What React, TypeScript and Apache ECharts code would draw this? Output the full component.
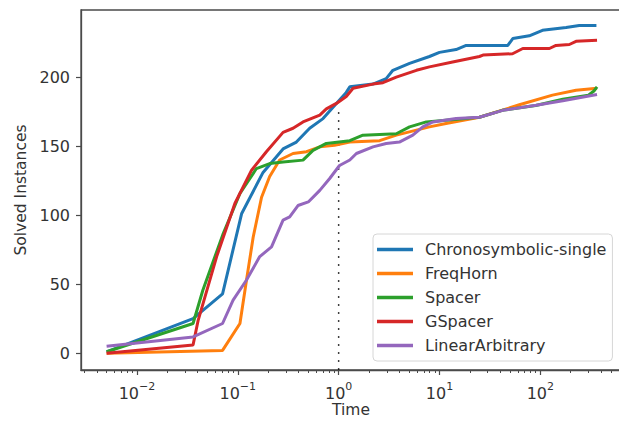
import React, { useEffect, useRef } from 'react';
import * as echarts from 'echarts';

const SERIES_NAMES = ['Chronosymbolic-single', 'FreqHorn', 'Spacer', 'GSpacer', 'LinearArbitrary'];
const COLORS = ['#1f77b4', '#ff7f0e', '#2ca02c', '#d62728', '#9467bd'];

// time (s) / solved instances
const chronoTime = [0.005, 0.036, 0.0706, 0.109, 0.178, 0.281, 0.381, 0.516, 0.7, 0.95, 1.19, 1.29, 2.19, 2.96, 3.45, 5.05, 7.95, 10, 14.6, 18.4, 24.9, 47.6, 53.3, 77.7, 105, 180, 243, 360];
const chronoSolved = [1, 25, 43, 101, 131, 148, 153, 163, 170, 181, 189, 193, 195, 199, 205, 210, 215, 218, 220, 223, 223, 223, 228, 230, 234, 236, 237.5, 237.5];

const freqTime = [0.005, 0.0706, 0.105, 0.122, 0.142, 0.172, 0.207, 0.26, 0.353, 0.48, 0.65, 0.91, 1.29, 2.55, 3.73, 7.95, 11.6, 24.9, 62, 132, 226, 365];
const freqSolved = [0, 2, 21.5, 53, 84, 113, 128, 140, 144.7, 146, 149.5, 150.7, 153, 154, 158, 164, 166.5, 171, 180, 187, 190.6, 192];

const spacerTime = [0.005, 0.036, 0.045, 0.0717, 0.105, 0.153, 0.207, 0.281, 0.443, 0.557, 0.755, 1.29, 1.74, 3.73, 5.05, 7.4, 24.9, 42, 90, 167, 300, 340, 365];
const spacerSolved = [1, 21.5, 45.6, 86.7, 115.7, 133.8, 137.4, 138.6, 139.9, 147, 152, 154, 158, 159, 164, 167.6, 171, 176, 179.5, 184, 187, 190, 193];

const gspacerTime = [0.005, 0.036, 0.0405, 0.0617, 0.0935, 0.137, 0.192, 0.281, 0.353, 0.443, 0.65, 0.755, 0.95, 1.19, 1.39, 2.19, 2.75, 3.73, 5.9, 7.95, 13.5, 24.9, 27, 53, 67, 123, 143, 194, 226, 365];
const gspacerSolved = [0, 6, 24, 70, 108.5, 132.6, 146, 160, 163, 167.6, 172.5, 177, 181, 186, 192, 195, 196, 200, 205, 207.5, 211, 215, 216, 217, 220.8, 220.8, 223, 223.7, 226, 226.8];

const linearTime = [0.005, 0.036, 0.0706, 0.0898, 0.122, 0.165, 0.216, 0.281, 0.327, 0.395, 0.5, 0.65, 0.815, 1.02, 1.29, 1.5, 2.19, 2.96, 4.0, 5.44, 6.83, 8.6, 14.6, 24.9, 42.4, 90.8, 167, 365];
const linearSolved = [5, 11.8, 21.5, 38.4, 53, 70, 77, 96.4, 98.8, 107, 109.6, 118, 126.6, 136, 140, 144.7, 149.5, 152, 153, 158, 164, 167.6, 170, 171, 176, 179.7, 183, 187.5];

const X_DECADES = [-2, -1, 0, 1, 2];
const Y_TICKS = [0, 50, 100, 150, 200];
const CUTOFF_TIME = 1;
const CUTOFF_RANGE = [-12, 177];

const TIMES = [chronoTime, freqTime, spacerTime, gspacerTime, linearTime];
const SOLVED = [chronoSolved, freqSolved, spacerSolved, gspacerSolved, linearSolved];

const FONT = "'DejaVu Sans', sans-serif";
const TEXT = '#333333';
const AXIS = '#4a4a4a';

const X_MIN = -2.555;
const X_MAX = 2.8;
const Y_MIN = -12.2;
const Y_MAX = 248.7;

function minorTicks(): number[] {
  const out: number[] = [];
  for (let n = -3; n <= 2; n++) {
    for (let k = 2; k <= 9; k++) {
      const v = Math.log10(k * Math.pow(10, n));
      if (v > X_MIN && v < X_MAX) out.push(v);
    }
  }
  return out;
}

export default function App() {
  const ref = useRef<HTMLDivElement>(null);
  useEffect(() => {
    if (!ref.current) return;
    const chart = echarts.init(ref.current, undefined, { renderer: 'svg' });
    const series: any[] = SERIES_NAMES.map((name, i) => ({
      name,
      type: 'line',
      xAxisIndex: 0,
      data: TIMES[i].map((t, j) => [Math.log10(t), SOLVED[i][j]]),
      showSymbol: false,
      symbol: 'none',
      lineStyle: { color: COLORS[i], width: 3 },
      itemStyle: { color: COLORS[i] },
      z: 3,
    }));
    series.push({
      name: 'cutoff',
      type: 'line',
      xAxisIndex: 0,
      data: CUTOFF_RANGE.map((v) => [Math.log10(CUTOFF_TIME), v]),
      symbol: 'none',
      lineStyle: { color: '#000', width: 1.5, type: [1.5, 6.5] },
      z: 2,
      silent: true,
    });
    const sup = (e: number) => (e < 0 ? '\u2212' + -e : String(e));
    chart.setOption({
      animation: false,
      grid: {
        left: 81,
        right: -2,
        top: 10,
        bottom: 51,
        show: true,
        borderColor: AXIS,
        borderWidth: 1.3,
        backgroundColor: 'transparent',
        outerBoundsMode: 'none',
        containLabel: false,
      },
      legend: {
        data: SERIES_NAMES,
        orient: 'vertical',
        left: 373,
        top: 234,
        icon: 'rect',
        itemWidth: 36,
        itemHeight: 3.5,
        itemGap: 5,
        padding: [6, 6, 6, 4],
        backgroundColor: '#fff',
        borderColor: '#d6d6d6',
        borderWidth: 1,
        borderRadius: 4,
        textStyle: { fontFamily: FONT, fontSize: 16, color: TEXT, lineHeight: 19, padding: [0, 0, 0, 7] },
        selectedMode: false,
      },
      xAxis: [
        {
          type: 'value',
          min: X_MIN,
          max: X_MAX,
          position: 'bottom',
          name: 'Time',
          nameLocation: 'middle',
          nameGap: 32,
          nameMoveOverlap: false,
          nameTextStyle: { fontFamily: FONT, fontSize: 15.5, color: TEXT, lineHeight: 16 },
          axisLine: { show: true, onZero: false, lineStyle: { color: AXIS, width: 1.3 } },
          axisTick: { show: true, inside: false, length: 5, customValues: X_DECADES, lineStyle: { color: AXIS, width: 1.2 } },
          axisLabel: {
            customValues: X_DECADES,
            margin: 11,
            formatter: (v: number) => `{b|10}{s|${sup(Math.round(v))}}`,
            rich: {
              b: { fontFamily: FONT, fontSize: 16, color: TEXT, lineHeight: 20, verticalAlign: 'bottom' },
              s: { fontFamily: FONT, fontSize: 11, color: TEXT, lineHeight: 20, verticalAlign: 'top', padding: [0, 0, 6, 0] },
            },
          },
          splitLine: { show: false },
        },
        {
          type: 'value',
          min: X_MIN,
          max: X_MAX,
          position: 'bottom',
          axisLine: { show: false, onZero: false },
          axisTick: { show: true, inside: false, length: 3, customValues: minorTicks(), lineStyle: { color: AXIS, width: 1 } },
          axisLabel: { show: false },
          splitLine: { show: false },
        },
      ],
      yAxis: {
        type: 'value',
        min: Y_MIN,
        max: Y_MAX,
        name: 'Solved Instances',
        nameLocation: 'middle',
        nameGap: 52,
        nameMoveOverlap: false,
        nameTextStyle: { fontFamily: FONT, fontSize: 15.5, color: TEXT },
        axisLine: { show: true, onZero: false, lineStyle: { color: AXIS, width: 1.3 } },
        axisTick: { show: true, inside: false, length: 5, customValues: Y_TICKS, lineStyle: { color: AXIS, width: 1.2 } },
        axisLabel: { customValues: Y_TICKS, margin: 11, fontFamily: FONT, fontSize: 16, color: TEXT },
        splitLine: { show: false },
      },
      series,
    });
    return () => chart.dispose();
  }, []);
  return <div ref={ref} style={{ position: 'absolute', left: 0, top: 0, width: 619, height: 421, background: '#fff' }} />;
}
